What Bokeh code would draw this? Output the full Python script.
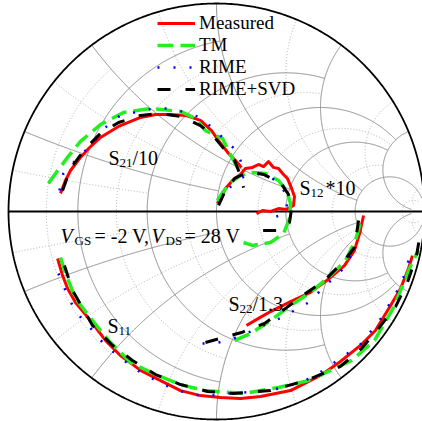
import numpy as np
from bokeh.plotting import figure
from bokeh.models import Range1d, ColumnDataSource, Legend, LegendItem, Label
from bokeh.embed import file_html
from bokeh.resources import INLINE

# ---------------- data (reflection coefficients) -------------
series_names = ["Measured", "TM", "RIME", "RIME+SVD"]

# S11
s11_meas_re = [-0.764,-0.740,-0.716,-0.678,-0.606,-0.534,-0.462,-0.365,-0.269,-0.173,-0.077,0.019,0.115,0.212,0.356,0.500,0.596,0.692,0.764,0.837,0.885,0.923,0.942]
s11_meas_im = [-0.226,-0.308,-0.370,-0.438,-0.524,-0.620,-0.692,-0.764,-0.813,-0.861,-0.885,-0.894,-0.899,-0.889,-0.861,-0.788,-0.721,-0.644,-0.572,-0.452,-0.370,-0.274,-0.212]
s11_tm_re = [-0.750,-0.731,-0.678,-0.596,-0.519,-0.413,-0.293,-0.173,-0.058,0.135,0.298,0.442,0.548,0.649,0.760,0.851,0.899,0.938,0.971]
s11_tm_im = [-0.221,-0.284,-0.418,-0.524,-0.620,-0.726,-0.784,-0.832,-0.861,-0.875,-0.846,-0.813,-0.764,-0.716,-0.620,-0.462,-0.346,-0.250,-0.188]
s11_rime_re = [-0.760,-0.726,-0.692,-0.649,-0.596,-0.543,-0.481,-0.413,-0.351,-0.279,-0.212,-0.135,-0.053,0.058,0.255,0.409,0.490,0.615,0.688,0.784,0.865,0.899,0.923,0.938]
s11_rime_im = [-0.298,-0.380,-0.452,-0.514,-0.572,-0.635,-0.688,-0.740,-0.784,-0.817,-0.851,-0.875,-0.889,-0.875,-0.861,-0.822,-0.779,-0.692,-0.644,-0.524,-0.389,-0.317,-0.236,-0.173]
s11_svd_re = [-0.731,-0.692,-0.596,-0.500,-0.404,-0.293,-0.173,-0.043,0.082,0.260,0.428,0.596,0.697,0.779,0.861,0.918,0.962,0.981]
s11_svd_im = [-0.260,-0.380,-0.548,-0.644,-0.716,-0.784,-0.832,-0.865,-0.875,-0.861,-0.813,-0.745,-0.659,-0.562,-0.457,-0.341,-0.212,-0.096]

# S21 / 10
s21_meas_re = [-0.750,-0.726,-0.702,-0.654,-0.615,-0.558,-0.471,-0.365,-0.293,-0.221,-0.149,-0.077,-0.024,0.010,0.058,0.096,0.120]
s21_meas_im = [0.087,0.149,0.197,0.260,0.303,0.356,0.409,0.452,0.466,0.466,0.462,0.438,0.389,0.341,0.279,0.240,0.212]
s21_tm_re = [-0.808,-0.774,-0.716,-0.654,-0.558,-0.447,-0.317,-0.173,-0.101,-0.053,0.029,0.082,0.115]
s21_tm_im = [0.135,0.183,0.260,0.337,0.418,0.476,0.495,0.481,0.447,0.389,0.351,0.245,0.188]
s21_rime_re = [-0.755,-0.736,-0.697,-0.654,-0.596,-0.534,-0.462,-0.303,-0.221,-0.149,-0.077,-0.005,0.043,0.096,0.125]
s21_rime_im = [0.101,0.183,0.226,0.269,0.327,0.404,0.462,0.495,0.495,0.476,0.452,0.389,0.341,0.293,0.221]
s21_svd_re = [-0.740,-0.702,-0.630,-0.558,-0.471,-0.365,-0.269,-0.173,-0.077,-0.014,0.043,0.087,0.115,0.130]
s21_svd_im = [0.101,0.207,0.303,0.375,0.428,0.462,0.471,0.457,0.413,0.361,0.293,0.245,0.173,0.115]

# S12 * 10
s12_meas_re = [0.005,0.029,0.043,0.077,0.115,0.139,0.173,0.202,0.226,0.250,0.274,0.298,0.322,0.341,0.361,0.375,0.370,0.337,0.298,0.260,0.221,0.192]
s12_meas_im = [0.038,0.077,0.111,0.149,0.178,0.207,0.212,0.226,0.216,0.240,0.212,0.207,0.178,0.159,0.111,0.072,0.029,0.010,0.014,0.000,0.005,-0.010]
s12_tm_re = [0.005,0.029,0.067,0.115,0.173,0.236,0.298,0.337,0.356,0.351,0.322,0.260,0.173,0.130]
s12_tm_im = [0.053,0.091,0.139,0.173,0.188,0.183,0.149,0.101,0.038,-0.034,-0.106,-0.149,-0.163,-0.149]
s12_rime_re = [0.019,0.058,0.115,0.163,0.221,0.288,0.341,0.337,0.308,0.269]
s12_rime_im = [0.053,0.111,0.159,0.183,0.178,0.149,0.077,0.010,-0.019,-0.029]
s12_svd_re = [0.010,0.038,0.087,0.154,0.226,0.308,0.346,0.361,0.351,0.298,0.221]
s12_svd_im = [0.029,0.091,0.159,0.192,0.178,0.139,0.082,0.014,-0.053,-0.091,-0.091]

# S22 / 1.3
s22_meas_re = [0.144,0.202,0.260,0.356,0.452,0.543,0.615,0.663,0.688,0.707]
s22_meas_im = [-0.548,-0.514,-0.481,-0.433,-0.389,-0.322,-0.260,-0.188,-0.106,-0.019]
s22_tm_re = [0.087,0.163,0.260,0.356,0.452,0.548,0.620,0.668,0.692]
s22_tm_im = [-0.620,-0.587,-0.524,-0.452,-0.389,-0.308,-0.236,-0.139,-0.053]
s22_rime_re = [-0.067,0.010,0.115,0.202,0.313,0.442,0.524,0.611,0.654]
s22_rime_im = [-0.635,-0.630,-0.601,-0.558,-0.510,-0.438,-0.356,-0.274,-0.197]
s22_svd_re = [-0.053,0.120,0.231,0.337,0.428,0.519,0.615,0.663,0.683]
s22_svd_im = [-0.630,-0.582,-0.538,-0.462,-0.394,-0.332,-0.236,-0.173,-0.043]

# Smith chart grid values (value, limit)
major_grid = [(0.2, 1), (0.5, 2), (1, 5), (2, 5), (5, 30)]
minor_grid = [(0.1, 0.5), (0.35, 1), (0.75, 2), (1.5, 5), (3.5, 5), (17.5, 30)]

# ---------------- figure ----------------
W, H = 422, 421
p = figure(width=W, height=H, x_range=Range1d(-1.0385, 0.9904), y_range=Range1d(-1.0096, 1.0144),
           output_backend="svg", toolbar_location=None, min_border=0,
           x_axis_type=None, y_axis_type=None)
p.outline_line_color = None
p.grid.visible = False
p.background_fill_color = "white"


def z2g(z):
    return (z - 1) / (z + 1)


def r_circle(r, xmax):
    t = np.linspace(-1, 1, 801)
    x = np.sinh(t * np.arcsinh(xmax))
    g = z2g(r + 1j * x)
    return list(g.real), list(g.imag)


def x_arc(x, rmax):
    r = np.expm1(np.linspace(0, np.log1p(rmax), 400))
    g = z2g(r + 1j * x)
    return list(g.real), list(g.imag)


def grid_lines(spec):
    xs, ys = [], []
    for v, lim in spec:
        a, b = r_circle(v, lim)
        xs.append(a); ys.append(b)
        for s in (1, -1):
            a, b = x_arc(s * v, lim)
            xs.append(a); ys.append(b)
    return xs, ys

mxs, mys = grid_lines(minor_grid)
p.multi_line(mxs, mys, line_color="#b0b0b0", line_width=1, line_dash="1 2")
Mxs, Mys = grid_lines(major_grid)
p.multi_line(Mxs, Mys, line_color="#8a8a8a", line_width=1)

th = np.linspace(0, 2 * np.pi, 721)
p.line(np.cos(th), np.sin(th), line_color="black", line_width=1.8)
p.line([-1, 1], [0, 0], line_color="black", line_width=1.8)

# ---------------- traces ----------------
styles = {
    "Measured": dict(line_color="#ff0000", line_width=3, line_join="round"),
    "TM": dict(line_color="#22ee22", line_width=3.5, line_dash="16 7"),
    "RIME": dict(line_color="#0000ff", line_width=2.5, line_dash="2 14"),
    "RIME+SVD": dict(line_color="black", line_width=3, line_dash="13 15"),
}
traces = {
    "Measured": [(s11_meas_re, s11_meas_im), (s21_meas_re, s21_meas_im), (s12_meas_re, s12_meas_im), (s22_meas_re, s22_meas_im)],
    "TM": [(s11_tm_re, s11_tm_im), (s21_tm_re, s21_tm_im), (s12_tm_re, s12_tm_im), (s22_tm_re, s22_tm_im)],
    "RIME": [(s11_rime_re, s11_rime_im), (s21_rime_re, s21_rime_im), (s12_rime_re, s12_rime_im), (s22_rime_re, s22_rime_im)],
    "RIME+SVD": [(s11_svd_re, s11_svd_im), (s21_svd_re, s21_svd_im), (s12_svd_re, s12_svd_im), (s22_svd_re, s22_svd_im)],
}
items = []
for name in series_names:
    rends = []
    for re_, im_ in traces[name]:
        src = ColumnDataSource(dict(x=re_, y=im_))
        rends.append(p.line("x", "y", source=src, **styles[name]))
    items.append(LegendItem(label=name, renderers=[rends[0]]))

legend = Legend(items=items, location=(157, 321), glyph_width=38, glyph_height=22,
                label_height=22, label_standoff=4, spacing=0, padding=0, margin=0,
                border_line_alpha=0, background_fill_alpha=0,
                label_text_font="Liberation Serif", label_text_font_size="19px",
                label_text_color="black")
p.add_layout(legend)

# ---------------- text labels ----------------
FONT = "Liberation Serif"


def add_text(txt, x, base, size=20, italic=False):
    p.add_layout(Label(x=x, y=H - base, x_units="screen", y_units="screen", text=txt,
                       text_font=FONT, text_font_size=f"{size}px", text_baseline="alphabetic",
                       text_font_style="italic" if italic else "normal", text_color="black"))

# S21/10
add_text("S", 108, 157); add_text("21", 119, 162, 13); add_text("/10", 132, 157)
# S12*10
add_text("S", 299, 187); add_text("12", 310, 192, 13); add_text("*10", 325, 187)
# S22/1.3
add_text("S", 228, 303); add_text("22", 239, 308, 13); add_text("/1.3", 252, 303)
# S11
add_text("S", 107, 325); add_text("11", 118, 330, 13)
# bias
add_text("V", 60, 235, italic=True); add_text("GS", 74, 240, 13); add_text("= -2 V,", 94, 235)
add_text("V", 151, 235, italic=True); add_text("DS", 165, 240, 13); add_text("= 28 V", 184, 235)

open("out.html", "w").write(file_html(p, INLINE))
